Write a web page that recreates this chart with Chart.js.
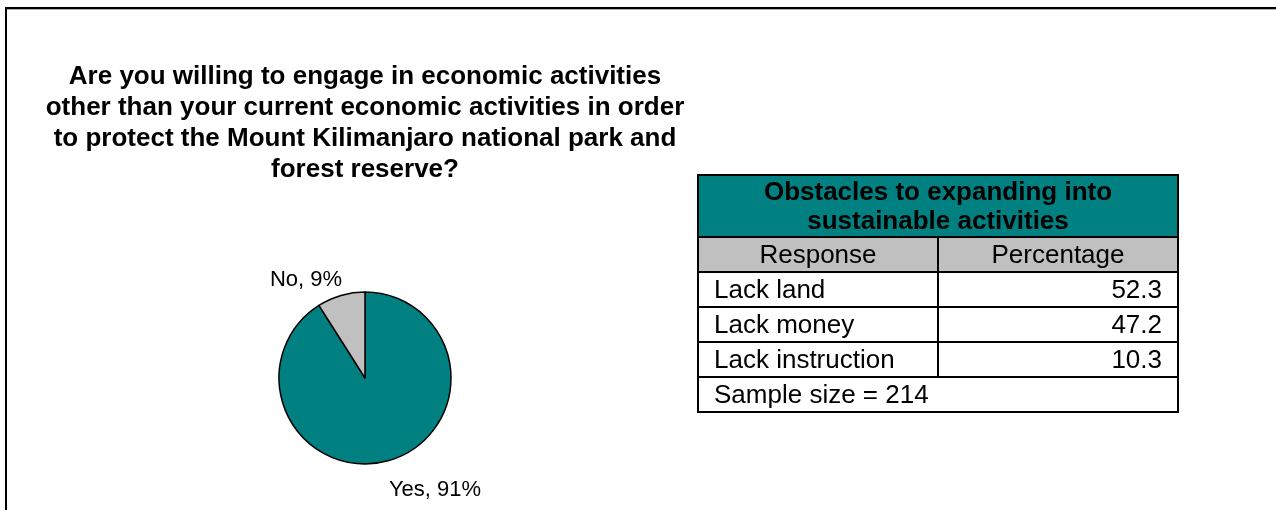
<!DOCTYPE html>
<html>
<head>
  <meta charset="UTF-8">
  <title>Willingness to engage in other economic activities</title>
  <script src="https://cdn.jsdelivr.net/npm/chart.js"></script>
  <style>
    body { margin: 0; width: 1276px; height: 510px; overflow: hidden; background: #fff; font-family: Arial, "Liberation Sans", sans-serif; }
    #frame {
      position: absolute; left: 5px; top: 7px; right: 0; bottom: 0;
      border-top: 2px solid #000; border-left: 2px solid #000;
      box-shadow: inset 0 1px 0 #b0b0b0;
    }
    #pieWrap { position: absolute; left: 0; top: 0; width: 730px; height: 510px; }
    #obstacles {
      position: absolute; left: 697px; top: 174px; width: 482px;
      border-collapse: collapse; font-size: 26px; color: #000;
    }
    #obstacles td, #obstacles th { border: 2px solid #000; padding: 0 15px; height: 33px; line-height: 31px; }
    #obstacles .head { background: #008080; font-weight: bold; text-align: center; line-height: 29px; height: 60px; padding: 0; }
    #obstacles .sub td { background: #c0c0c0; text-align: center; }
    #obstacles td.num { text-align: right; }
    #obstacles td { width: 50%; }
  </style>
</head>
<body>
  <div id="frame"></div>
  <div id="pieWrap"><canvas id="pie" width="730" height="510"></canvas></div>
  <table id="obstacles"></table>
  <script>
    // Pie: willingness to take up other economic activities
    const answers = ["Yes", "No"];
    const shares = [91, 9];
    const sliceColors = ["#008080", "#c0c0c0"];

    // Table: obstacles to expanding into sustainable activities
    const tableTitle = ["Obstacles to expanding into", "sustainable activities"];
    const tableHeads = ["Response", "Percentage"];
    const responses = ["Lack land", "Lack money", "Lack instruction"];
    const percentages = [52.3, 47.2, 10.3];
    const sampleSize = 214;

    // build the table
    const tbl = document.getElementById("obstacles");
    let html = '<tr><th class="head" colspan="2">' + tableTitle.join("<br>") + '</th></tr>';
    html += '<tr class="sub"><td>' + tableHeads[0] + '</td><td>' + tableHeads[1] + '</td></tr>';
    responses.forEach((r, i) => {
      html += '<tr><td>' + r + '</td><td class="num">' + percentages[i].toFixed(1) + '</td></tr>';
    });
    html += '<tr><td colspan="2">Sample size = ' + sampleSize + '</td></tr>';
    tbl.innerHTML = html;

    // "No, 9%" style labels outside each slice
    const outsideLabels = {
      id: "outsideLabels",
      afterDatasetsDraw(chart) {
        const ctx = chart.ctx;
        const meta = chart.getDatasetMeta(0);
        ctx.save();
        ctx.font = "22px Arial, 'Liberation Sans', sans-serif";
        ctx.fillStyle = "#000";
        meta.data.forEach((arc, i) => {
          const p = arc.getProps(["x", "y", "startAngle", "endAngle", "outerRadius"], true);
          const mid = (p.startAngle + p.endAngle) / 2;
          const r = p.outerRadius + 14;
          const left = Math.cos(mid) < 0, up = Math.sin(mid) < 0;
          const cx = p.x + Math.cos(mid) * r + (left ? 5 : -4);
          const cy = p.y + Math.sin(mid) * r + (up ? 9 : 5);
          ctx.textAlign = left ? "right" : "left";
          ctx.textBaseline = up ? "bottom" : "top";
          ctx.fillText(answers[i] + ", " + shares[i] + "%", cx, cy);
        });
        ctx.restore();
      }
    };

    new Chart(document.getElementById("pie"), {
      type: "pie",
      data: {
        labels: answers,
        datasets: [{
          data: shares,
          backgroundColor: sliceColors,
          borderColor: "#000",
          borderWidth: 1.5
        }]
      },
      options: {
        responsive: false,
        animation: false,
        radius: 86,
        layout: { padding: { top: 0, bottom: 0, left: 0, right: 0 } },
        plugins: {
          legend: { display: false },
          tooltip: { enabled: false },
          title: {
            display: true,
            text: [
              "Are you willing to engage in economic activities",
              "other than your current economic activities in order",
              "to protect the Mount Kilimanjaro national park and",
              "forest reserve?"
            ],
            color: "#000",
            font: { family: "Arial, 'Liberation Sans', sans-serif", size: 26, weight: "bold", lineHeight: 31 / 26 },
            padding: { top: 61, bottom: 61 }
          }
        }
      },
      plugins: [outsideLabels]
    });
  </script>
</body>
</html>
